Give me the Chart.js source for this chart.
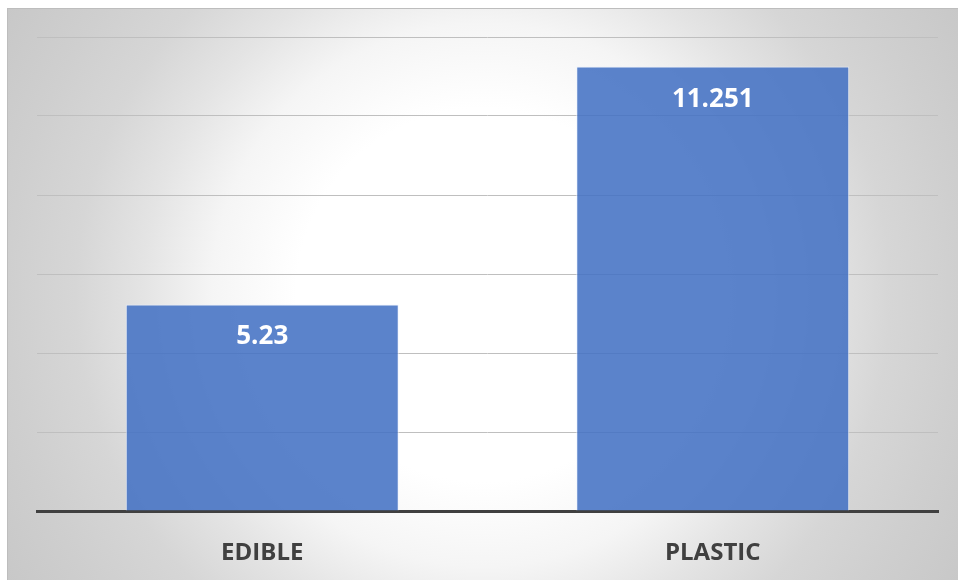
<!DOCTYPE html>
<html>
<head>
<meta charset="utf-8">
<script src="https://cdn.jsdelivr.net/npm/chart.js@4/dist/chart.umd.min.js"></script>
<style>
  html, body { margin: 0; padding: 0; width: 958px; height: 580px; overflow: hidden; background: #ffffff; }
  #frame {
    position: absolute; left: 7px; top: 8px; width: 960px; height: 580px;
    box-sizing: border-box;
    border-left: 1px solid #bdbdbd; border-top: 1px solid #bdbdbd;
    background: radial-gradient(circle farthest-corner at 475px 286px,
      #ffffff 0%, #ffffff 33%, #f5f5f5 48%, #e4e4e4 60%, #d6d6d6 72%, #cfcfcf 84%, #c7c7c7 100%);
  }
  #chart { position: absolute; left: 0; top: 0; }
</style>
</head>
<body>
<div id="frame"></div>
<canvas id="chart" width="958" height="580"></canvas>
<script>
// Categories and values
const categories = ['EDIBLE', 'PLASTIC'];
const values = [5.23, 11.251];
const valueLabels = ['5.23', '11.251'];

// Writes each value inside the top of its bar
const barValueLabels = {
  id: 'barValueLabels',
  afterDatasetsDraw(chart) {
    const ctx = chart.ctx;
    const meta = chart.getDatasetMeta(0);
    ctx.save();
    ctx.fillStyle = '#ffffff';
    ctx.font = 'bold 26px "Open Sans"';
    ctx.textAlign = 'center';
    ctx.textBaseline = 'alphabetic';
    meta.data.forEach((bar, i) => {
      ctx.fillText(valueLabels[i], bar.x, bar.y + 40);
    });
    ctx.restore();
  }
};

new Chart(document.getElementById('chart'), {
  type: 'bar',
  data: {
    labels: categories,
    datasets: [{
      data: values,
      backgroundColor: 'rgba(68,114,196,0.88)',
      borderColor: 'rgba(235,242,255,0.75)',
      borderWidth: 1,
      categoryPercentage: 1,
      barPercentage: 0.606
    }]
  },
  options: {
    responsive: false,
    animation: false,
    devicePixelRatio: 1,
    layout: { padding: { left: 37, right: 20, top: 37, bottom: 0 } },
    plugins: { legend: { display: false }, tooltip: { enabled: false } },
    scales: {
      x: {
        grid: { display: false, drawTicks: false },
        border: { display: true, color: '#404040', width: 3 },
        ticks: {
          color: '#404040',
          font: { family: '"Liberation Sans Narrow", "Open Sans", sans-serif', weight: 'bold', size: 24 },
          padding: 28
        },
        afterFit(scale) { scale.height = 69; }
      },
      y: {
        min: 0, max: 12,
        ticks: { display: false, stepSize: 2 },
        grid: { color: '#bfbfbf', lineWidth: 1, drawTicks: false },
        border: { display: false },
        afterFit(scale) { scale.width = 0; }
      }
    }
  },
  plugins: [barValueLabels]
});
</script>
</body>
</html>
